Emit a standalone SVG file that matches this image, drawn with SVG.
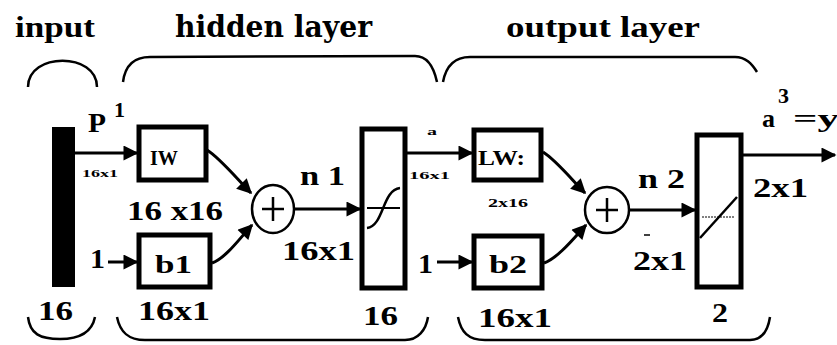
<svg xmlns="http://www.w3.org/2000/svg" width="837" height="345" viewBox="0 0 837 345">
<defs>
<marker id="ah" viewBox="0 0 10 10" refX="9" refY="5" markerWidth="5.5" markerHeight="5" markerUnits="strokeWidth" orient="auto">
<path d="M0,0 L10,5 L0,10 z" fill="#000"/>
</marker>
<style>
text{font-weight:bold;fill:#000}
.h{font-size:30px}
.m{font-size:28px}
.s{font-size:11px}
.box{fill:#fff;stroke:#000;stroke-width:5}
.br{fill:none;stroke:#000;stroke-width:2.5}
.ar{fill:none;stroke:#000;stroke-width:3;marker-end:url(#ah)}
</style>
</defs>
<rect width="837" height="345" fill="#fff"/>
<g font-family="'Liberation Serif', 'Times New Roman', serif">
<g id="headings">
<text class="h" x="15" y="37" textLength="80" lengthAdjust="spacingAndGlyphs" font-family="Liberation Serif">input</text>
<text class="h" x="175" y="37" textLength="197" lengthAdjust="spacingAndGlyphs" font-family="DejaVu Serif">hidden layer</text>
<text class="h" x="506" y="37" textLength="194" lengthAdjust="spacingAndGlyphs" font-family="Times New Roman">output layer</text>
</g>

<g id="braces">
<path class="br" d="M28,87 C28,52 97,52 97,87"/>
<path class="br" d="M123,82 C125,66 133,57 150,57 L415,56 C428,56 434,68 437,82"/>
<path class="br" d="M443,82 C446,66 455,57 470,57 L735,57 C746,57 752,64 757,72"/>
<path class="br" d="M28,317 C30,334 40,339 60,339 C80,339 92,332 95,317"/>
<path class="br" d="M117,317 C120,332 128,340 145,340 L405,340 C418,340 426,330 428,317"/>
<path class="br" d="M458,317 C461,332 468,340 485,340 L750,340 C762,340 768,330 770,317"/>
</g>

<g id="input">
<rect x="52" y="127" width="23" height="160" fill="#000"/>
<text class="m" x="88" y="132" textLength="18" lengthAdjust="spacingAndGlyphs">P</text>
<text style="font-size:22px" x="114" y="117">1</text>
<text class="s" x="82" y="177" textLength="36" lengthAdjust="spacingAndGlyphs">16x1</text>
<text class="m" x="38" y="320" textLength="35" lengthAdjust="spacingAndGlyphs">16</text>
</g>

<g id="IW">
<rect class="box" x="139" y="127" width="67" height="53"/>
<text style="font-size:20px" x="150" y="165" textLength="28" lengthAdjust="spacingAndGlyphs">IW</text>
<text class="m" x="127" y="220" textLength="96" lengthAdjust="spacingAndGlyphs">16 x16</text>
</g>

<g id="b1">
<rect class="box" x="139" y="235" width="71" height="52"/>
<text style="font-size:26px" x="155" y="273" textLength="37" lengthAdjust="spacingAndGlyphs">b1</text>
<text class="m" x="90" y="268" textLength="15" lengthAdjust="spacingAndGlyphs">1</text>
<text class="m" x="138" y="320" textLength="72" lengthAdjust="spacingAndGlyphs">16x1</text>
</g>

<g id="sum1">
<ellipse cx="273" cy="209" rx="21" ry="24" fill="#fff" stroke="#000" stroke-width="2.5"/>
<path d="M273,197 V221 M262,209 H284" stroke="#000" stroke-width="2.5"/>
<text class="m" x="300" y="185" textLength="45" lengthAdjust="spacingAndGlyphs">n 1</text>
<text class="m" x="282" y="260" textLength="73" lengthAdjust="spacingAndGlyphs">16x1</text>
</g>

<g id="hidden-transfer">
<rect class="box" x="362" y="129" width="43" height="159"/>
<path d="M367,208 H400" stroke="#000" stroke-width="2"/>
<path d="M367,228 C384,226 382,190 400,188" fill="none" stroke="#000" stroke-width="2.5"/>
<text class="m" x="363" y="325" textLength="35" lengthAdjust="spacingAndGlyphs">16</text>
<text class="s" x="427" y="135" textLength="10" lengthAdjust="spacingAndGlyphs">a</text>
<text class="s" x="409" y="179" textLength="41" lengthAdjust="spacingAndGlyphs">16x1</text>
</g>

<g id="LW">
<rect class="box" x="474" y="130" width="67" height="50"/>
<text style="font-size:20px" x="478" y="165" textLength="47" lengthAdjust="spacingAndGlyphs">LW:</text>
<text style="font-size:12px" x="488" y="207" textLength="40" lengthAdjust="spacingAndGlyphs">2x16</text>
</g>

<g id="b2">
<rect class="box" x="474" y="236" width="68" height="52"/>
<text style="font-size:26px" x="489" y="273" textLength="38" lengthAdjust="spacingAndGlyphs">b2</text>
<text class="m" x="418" y="273" textLength="15" lengthAdjust="spacingAndGlyphs">1</text>
<text class="m" x="478" y="327" textLength="74" lengthAdjust="spacingAndGlyphs">16x1</text>
</g>

<g id="sum2">
<ellipse cx="607" cy="210" rx="22" ry="23" fill="#fff" stroke="#000" stroke-width="2.5"/>
<path d="M607,198 V222 M596,210 H618" stroke="#000" stroke-width="2.5"/>
<text class="m" x="638" y="188" textLength="47" lengthAdjust="spacingAndGlyphs">n 2</text>
<path d="M644,235 H650" stroke="#000" stroke-width="1.5"/>
<text class="m" x="633" y="270" textLength="54" lengthAdjust="spacingAndGlyphs">2x1</text>
</g>

<g id="output-transfer">
<rect class="box" x="697" y="135" width="44" height="152"/>
<path d="M702,217 H735" stroke="#000" stroke-width="1" stroke-dasharray="2,1"/>
<path d="M700,238 L737,197" stroke="#000" stroke-width="2.5"/>
<text class="m" x="712" y="322" textLength="16" lengthAdjust="spacingAndGlyphs">2</text>
</g>

<g id="output">
<text class="m" x="753" y="197" textLength="55" lengthAdjust="spacingAndGlyphs">2x1</text>
<text style="font-size:26px" x="762" y="127">a</text>
<text style="font-size:22px" x="778" y="103">3</text>
<text style="font-size:26px" x="793" y="127" textLength="46" lengthAdjust="spacingAndGlyphs">=y</text>
</g>
</g>
<g id="connectors">
<path class="ar" d="M75,153 H137"/>
<path class="ar" d="M108,262 H137"/>
<path class="ar" d="M207,150 C220,158 238,180 251,193"/>
<path class="ar" d="M212,263 C226,258 240,238 252,225"/>
<path class="ar" d="M295,209 H360"/>
<path class="ar" d="M407,153 H472"/>
<path class="ar" d="M437,262 H472"/>
<path class="ar" d="M543,152 C556,160 572,180 585,193"/>
<path class="ar" d="M544,263 C558,258 574,238 586,225"/>
<path class="ar" d="M629,210 H695"/>
<path class="ar" d="M743,155 H835"/>
</g>
</svg>
